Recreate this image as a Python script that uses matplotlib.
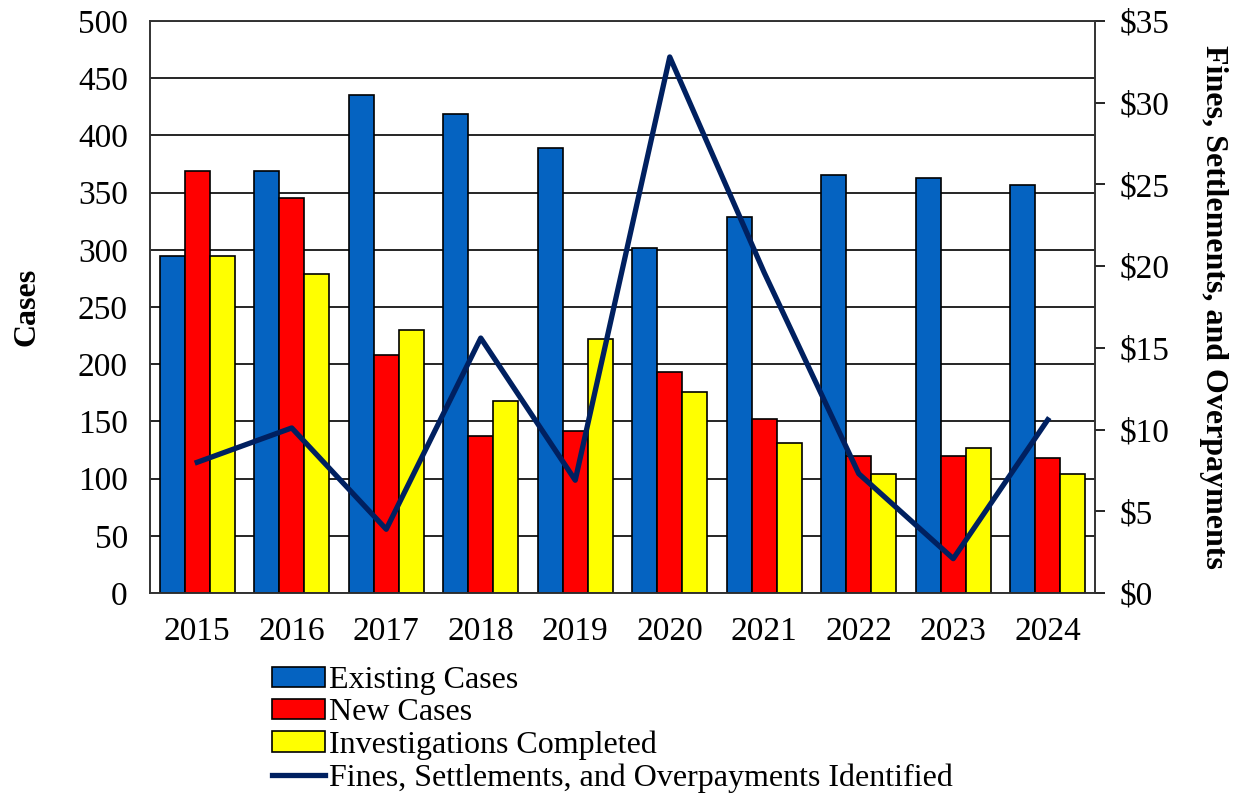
import matplotlib
matplotlib.use('Agg')
import matplotlib.pyplot as plt
import numpy as np

years = ['2015', '2016', '2017', '2018', '2019', '2020', '2021', '2022', '2023', '2024']
existing_cases = [295, 369, 435, 419, 389, 302, 329, 365, 363, 357]
new_cases = [369, 345, 208, 137, 142, 193, 152, 120, 120, 118]
investigations = [295, 279, 230, 168, 222, 176, 131, 104, 127, 104]
fines_millions = [8.0, 10.1, 3.9, 15.6, 6.9, 32.8, 19.6, 7.3, 2.1, 10.6]

plt.rcParams['font.family'] = ['Liberation Serif', 'DejaVu Serif']

fig = plt.figure(figsize=(12.39, 7.95), dpi=100)
ax = fig.add_axes([150 / 1239, 1 - 593 / 795, 945 / 1239, 572 / 795])
ax2 = ax.twinx()

x = np.arange(len(years))
w = 0.265
ax.bar(x - w, existing_cases, w, color='#0563C1', edgecolor='black', linewidth=1.2,
       label='Existing Cases', zorder=3)
ax.bar(x, new_cases, w, color='#FF0000', edgecolor='black', linewidth=1.2,
       label='New Cases', zorder=3)
ax.bar(x + w, investigations, w, color='#FFFF00', edgecolor='black', linewidth=1.2,
       label='Investigations Completed', zorder=3)

ln, = ax2.plot(x, fines_millions, color='#002060', linewidth=3.8,
               label='Fines, Settlements, and Overpayments Identified', zorder=4)

ax.set_xlim(-0.5, len(years) - 0.5)
ax.set_ylim(0, 500)
ax.set_yticks(np.arange(0, 501, 50))
ax.set_xticks(x)
ax.set_xticklabels(years)
ax.yaxis.grid(True, color='black', linewidth=1.2, zorder=0)
ax.set_axisbelow(True)
ax.tick_params(axis='y', length=0, labelsize=24, pad=16)
ax.tick_params(axis='x', length=0, labelsize=24, pad=17)
ax.set_ylabel('Cases', fontsize=23, fontweight='bold', labelpad=26)

ax2.set_ylim(0, 35)
ax2.set_yticks(np.arange(0, 36, 5))
ax2.set_yticklabels(['$%d' % v for v in range(0, 36, 5)])
ax2.tick_params(axis='y', direction='out', length=7, width=1.2, labelsize=24, pad=11)
ax2.set_ylabel('Fines, Settlements, and Overpayments', fontsize=23, fontweight='bold',
               rotation=-90, labelpad=42)

for a in (ax, ax2):
    for s in a.spines.values():
        s.set_linewidth(1.2)
        s.set_color('#333333')

ax.set_zorder(ax2.get_zorder() - 1)
ax.patch.set_visible(False)
ax2.patch.set_visible(False)

handles, labels = ax.get_legend_handles_labels()
handles.append(ln)
labels.append(ln.get_label())
fig.legend(handles, labels, loc='upper left', bbox_to_anchor=(256 / 1239, 1 - 650 / 795),
           frameon=False, fontsize=23, handlelength=1.65, handleheight=0.6,
           handletextpad=0.15, labelspacing=0.1, borderpad=0)

fig.savefig('out.png', dpi=100)
